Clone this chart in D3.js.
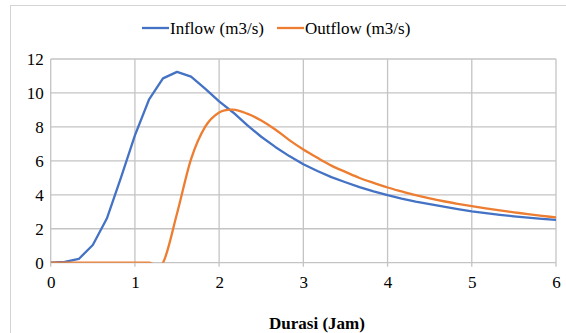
<!DOCTYPE html>
<html>
<head>
<meta charset="utf-8">
<script src="https://cdn.jsdelivr.net/npm/d3@7/dist/d3.min.js"></script>
<style>
  html, body { margin: 0; padding: 0; background: #fff; }
  svg { display: block; }
  svg text { font-family: "Liberation Serif", "Times New Roman", Times, serif !important; fill: #000; }
</style>
</head>
<body>
<svg id="chart" width="566" height="333"></svg>
<script>
// Hydrograph data: time (hours) at 10-minute steps
const durasi = d3.range(0, 37).map(i => i / 6);
const inflow = [0, 0.05, 0.22, 1.04, 2.6, 5.0, 7.5, 9.6, 10.86, 11.24, 10.96, 10.25, 9.5,
  8.85, 8.1, 7.42, 6.82, 6.28, 5.8, 5.4, 5.04, 4.74, 4.45, 4.2, 3.98, 3.78, 3.6, 3.45,
  3.3, 3.16, 3.02, 2.92, 2.82, 2.73, 2.65, 2.58, 2.52];
const outflow = [0, 0, 0, 0, 0, 0, 0, 0, 0, 2.9, 6.1, 8.0, 8.85, 9.02, 8.78, 8.38, 7.85,
  7.22, 6.67, 6.18, 5.72, 5.35, 4.99, 4.7, 4.43, 4.2, 3.98, 3.79, 3.62, 3.47, 3.33,
  3.2, 3.08, 2.97, 2.86, 2.76, 2.67];
const xTicks = [0, 1, 2, 3, 4, 5, 6];
const yTicks = [0, 2, 4, 6, 8, 10, 12];
const seriesNames = ["Inflow (m3/s)", "Outflow (m3/s)"];
const seriesColors = ["#4472C4", "#ED7D31"];

const svg = d3.select("#chart");
const plot = { left: 50.7, right: 556, top: 59, bottom: 262.7 };

const x = d3.scaleLinear().domain([0, 6]).range([plot.left, plot.right]);
const y = d3.scaleLinear().domain([0, 12]).range([plot.bottom, plot.top]);

// chart frame
svg.append("rect")
  .attr("x", 10.5).attr("y", 5.5).attr("width", 620).attr("height", 400)
  .attr("fill", "none").attr("stroke", "#d4d4d4").attr("stroke-width", 1);

// gridlines
const grid = svg.append("g").attr("stroke", "#c4c4c4").attr("stroke-width", 1.3);
grid.selectAll("line.h").data(yTicks).join("line")
  .attr("x1", plot.left).attr("x2", plot.right)
  .attr("y1", d => y(d)).attr("y2", d => y(d));
grid.selectAll("line.v").data(xTicks).join("line")
  .attr("x1", d => x(d)).attr("x2", d => x(d))
  .attr("y1", plot.top).attr("y2", plot.bottom + 4);

// axis tick labels
const xAxis = d3.axisBottom(x).tickValues(xTicks).tickSize(0).tickPadding(13).tickFormat(d3.format("d"));
const yAxis = d3.axisLeft(y).tickValues(yTicks).tickSize(0).tickPadding(7).tickFormat(d3.format("d"));
svg.append("g").attr("transform", `translate(0,${plot.bottom})`).call(xAxis)
  .attr("font-family", null).attr("font-size", null)
  .call(g => g.select(".domain").remove())
  .selectAll("text").style("font-size", "17px");
svg.append("g").attr("transform", `translate(${plot.left},0)`).call(yAxis)
  .attr("font-family", null).attr("font-size", null)
  .call(g => g.select(".domain").remove())
  .selectAll("text").style("font-size", "17px");

// axis title
svg.append("text")
  .attr("x", 317).attr("y", 329)
  .attr("text-anchor", "middle")
  .style("font-size", "17px").style("font-weight", "bold")
  .text("Durasi (Jam)");

// clip series to the plot area
svg.append("clipPath").attr("id", "plotClip")
  .append("rect")
  .attr("x", plot.left).attr("y", plot.top - 5)
  .attr("width", plot.right - plot.left + 2).attr("height", plot.bottom - plot.top + 5);

const lines = svg.append("g").attr("clip-path", "url(#plotClip)");

const inflowLine = d3.line()
  .x((d, i) => x(durasi[i])).y(d => y(d))
  .curve(d3.curveLinear);
const outflowLine = d3.line()
  .x((d, i) => x(durasi[i])).y(d => y(d))
  .curve(d3.curveCardinal.tension(0));

lines.append("path").datum(inflow)
  .attr("d", inflowLine)
  .attr("fill", "none").attr("stroke", seriesColors[0])
  .attr("stroke-width", 2.3).attr("stroke-linejoin", "round");
lines.append("path").datum(outflow)
  .attr("d", outflowLine)
  .attr("fill", "none").attr("stroke", seriesColors[1])
  .attr("stroke-width", 2.3).attr("stroke-linejoin", "round");

// legend
const legendItems = [
  { name: seriesNames[0], color: seriesColors[0], x: 142 },
  { name: seriesNames[1], color: seriesColors[1], x: 277 }
];
const lg = svg.append("g");
lg.selectAll("line").data(legendItems).join("line")
  .attr("x1", d => d.x).attr("x2", d => d.x + 27)
  .attr("y1", 28).attr("y2", 28)
  .attr("stroke", d => d.color).attr("stroke-width", 2.3);
lg.selectAll("text").data(legendItems).join("text")
  .attr("x", d => d.x + 28).attr("y", 33.5)
  .style("font-size", "17px")
  .text(d => d.name);
</script>
</body>
</html>
